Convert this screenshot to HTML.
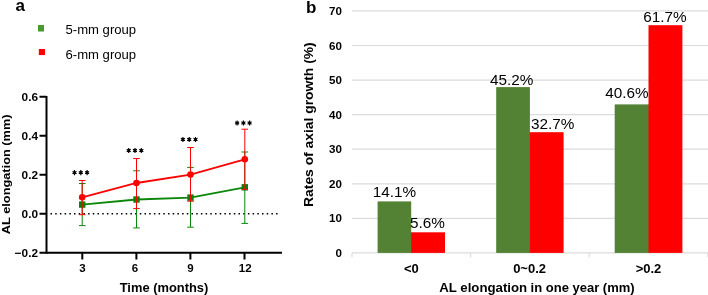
<!DOCTYPE html>
<html><head><meta charset="utf-8">
<style>
html,body{margin:0;padding:0;background:#fff;width:708px;height:295px;overflow:hidden}
svg{display:block;font-family:"Liberation Sans",sans-serif;will-change:transform}
.b{font-weight:bold}
</style></head><body>
<svg width="708" height="295" viewBox="0 0 708 295">
<!-- ===== Panel a ===== -->
<text x="15.5" y="11" class="b" font-size="17">a</text>
<rect x="38" y="25" width="6" height="6.5" fill="#479a2c"/>
<rect x="38.8" y="49" width="6.2" height="6.1" fill="#ff0000"/>
<text x="65.5" y="34" font-size="13.1">5-mm group</text>
<text x="65.5" y="59.3" font-size="13.1">6-mm group</text>

<!-- y axis title -->
<text transform="translate(9.5,234.2) rotate(-90)" class="b" font-size="10.8" textLength="119.8" lengthAdjust="spacingAndGlyphs">AL elongation (mm)</text>

<!-- y tick labels -->
<g class="b" font-size="11.8" text-anchor="end">
<text x="38" y="100.8">0.6</text>
<text x="38" y="139.8">0.4</text>
<text x="38" y="178.7">0.2</text>
<text x="38" y="217.7">0.0</text>
<text x="38" y="256.7">&#8722;0.2</text>
</g>
<!-- axes -->
<g stroke="#000" stroke-width="2" fill="none">
<path d="M46.5 96 V253.7"/>
<path d="M39.5 96.8 H46.5 M39.5 135.8 H46.5 M39.5 174.7 H46.5 M39.5 213.7 H46.5"/>
<path d="M39.5 252.7 H282"/>
<path d="M82.3 253 V259.5 M136.4 253 V259.5 M190.4 253 V259.5 M244.5 253 V259.5"/>
</g>
<!-- x tick labels -->
<g class="b" font-size="11.5" text-anchor="middle">
<text x="82.4" y="272">3</text>
<text x="135" y="272">6</text>
<text x="190.5" y="272">9</text>
<text x="245.2" y="272">12</text>
</g>
<text x="164" y="292" class="b" font-size="12.9" text-anchor="middle">Time (months)</text>

<!-- dotted zero line -->
<path d="M50.5 213.7 H278" stroke="#000" stroke-width="1.5" stroke-dasharray="1.5 3.2" fill="none"/>

<!-- green series -->
<g stroke="#0a870a" stroke-width="1" fill="none">
<path d="M82.2 183.5 V225.6 M78.9 183.5 H85.5 M78.9 225.6 H85.5"/>
<path d="M136.5 170.8 V227.9 M133.2 170.8 H139.8 M133.2 227.9 H139.8"/>
<path d="M190.5 167.4 V227.2 M187.2 167.4 H193.8 M187.2 227.2 H193.8"/>
<path d="M244.8 152.0 V223.4 M241.5 152.0 H248.1 M241.5 223.4 H248.1"/>
</g>
<path d="M82.2 204.6 L136.5 199.5 L190.5 197.6 L244.8 187.3" stroke="#0a870a" stroke-width="1.8" fill="none"/>
<g fill="#078307">
<rect x="79.0" y="201.4" width="6.4" height="6.4"/>
<rect x="133.3" y="196.3" width="6.4" height="6.4"/>
<rect x="187.3" y="194.4" width="6.4" height="6.4"/>
<rect x="241.6" y="184.1" width="6.4" height="6.4"/>
</g>
<!-- red series -->
<g stroke="#ff0000" stroke-width="1" fill="none">
<path d="M82.2 180.5 V214.7 M78.9 180.5 H85.5 M78.9 214.7 H85.5"/>
<path d="M136.5 158.5 V208.6 M133.2 158.5 H139.8 M133.2 208.6 H139.8"/>
<path d="M190.5 147.5 V201.2 M187.2 147.5 H193.8 M187.2 201.2 H193.8"/>
<path d="M244.8 129.2 V189.3 M241.5 129.2 H248.1 M241.5 189.3 H248.1"/>
</g>
<path d="M82.2 197.3 L136.5 183.0 L190.5 174.6 L244.8 159.3" stroke="#ff0000" stroke-width="1.8" fill="none"/>
<g fill="#ff0000">
<circle cx="82.2" cy="197.3" r="3.3"/>
<circle cx="136.5" cy="183.0" r="3.3"/>
<circle cx="190.5" cy="174.6" r="3.3"/>
<circle cx="244.8" cy="159.3" r="3.3"/>
</g>
<!-- significance -->
<defs><g id="st"><path d="M0 -2.6V2.6M-2 -1.15L2 1.15M-2 1.15L2 -1.15" stroke="#000" stroke-width="1.15"/><circle r="1.35" fill="#000"/></g></defs>
<use href="#st" x="74.5" y="172.7"/><use href="#st" x="80.8" y="172.7"/><use href="#st" x="87.1" y="172.7"/>
<use href="#st" x="128.7" y="150.5"/><use href="#st" x="135" y="150.5"/><use href="#st" x="141.3" y="150.5"/>
<use href="#st" x="182.9" y="139.5"/><use href="#st" x="189.2" y="139.5"/><use href="#st" x="195.5" y="139.5"/>
<use href="#st" x="237.1" y="123"/><use href="#st" x="243.4" y="123"/><use href="#st" x="249.6" y="123"/>

<!-- ===== Panel b ===== -->
<text x="306" y="12.7" class="b" font-size="17">b</text>
<!-- gridlines -->
<g stroke="#dcdcdc" stroke-width="1.2" fill="none">
<path d="M352 10.9 H708 M352 45.5 H708 M352 80.05 H708 M352 114.6 H708 M352 149.2 H708 M352 183.8 H708 M352 218.3 H708 M352 252.9 H708"/>
<path d="M352 252.9 V257.3 M470.6 252.9 V257.3 M589.2 252.9 V257.3 M707.8 252.9 V257.3"/>
</g>
<g class="b" font-size="11.6" text-anchor="end">
<text x="342" y="14.9">70</text>
<text x="342" y="49.5">60</text>
<text x="342" y="84">50</text>
<text x="342" y="118.6">40</text>
<text x="342" y="153.2">30</text>
<text x="342" y="187.8">20</text>
<text x="342" y="222.3">10</text>
<text x="342" y="256.9">0</text>
</g>
<text transform="translate(313.4,206.9) rotate(-90)" class="b" font-size="13.6" textLength="164.6" lengthAdjust="spacingAndGlyphs">Rates of axial growth (%)</text>
<!-- bars -->
<rect x="410.4" y="232.3" width="34.6" height="20.6" fill="#ff0000"/>
<rect x="377.6" y="201.4" width="33.6" height="51.5" fill="#548235"/>
<rect x="529.1" y="132.2" width="34.5" height="120.7" fill="#ff0000"/>
<rect x="496.2" y="87.1" width="33.7" height="165.8" fill="#548235"/>
<rect x="614.7" y="104.4" width="34.6" height="148.5" fill="#548235"/>
<rect x="648.5" y="25.2" width="33.9" height="227.7" fill="#ff0000"/>
<g font-size="15.3">
<text x="372.8" y="197">14.1%</text>
<text x="409.9" y="227.5">5.6%</text>
<text x="489.9" y="85.4">45.2%</text>
<text x="531" y="129.4">32.7%</text>
<text x="605.3" y="97.9">40.6%</text>
<text x="643.2" y="21.6">61.7%</text>
</g>
<g class="b" font-size="13" text-anchor="middle">
<text x="411.3" y="273">&lt;0</text>
<text x="529.6" y="273">0~0.2</text>
<text x="648.5" y="273">&gt;0.2</text>
</g>
<text x="439.2" y="292" class="b" font-size="13" textLength="88" lengthAdjust="spacingAndGlyphs">AL elongation</text>
<text x="530.6" y="292" class="b" font-size="13">in one year (mm)</text>
</svg>
</body></html>
